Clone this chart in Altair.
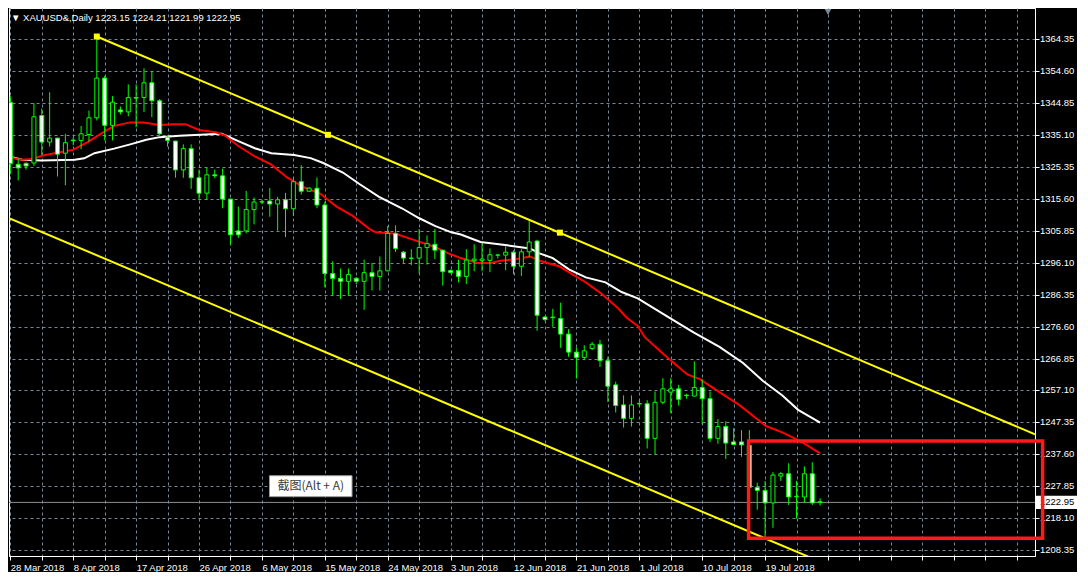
import json
import altair as alt
import pandas as pd

# ---------------- data ----------------
opens = [1345.05, 1326.1, 1326.4, 1326.5, 1341.0, 1332.9, 1334.1, 1329.5, 1333.5, 1333.4,
         1335.2, 1340.3, 1352.4, 1338.0, 1342.7, 1342.1, 1346.5, 1346.5, 1351.0, 1345.5,
         1334.4, 1333.2, 1324.4, 1330.9, 1322.0, 1317.3, 1322.9, 1322.6, 1315.5, 1305.8,
         1305.8, 1312.3, 1314.6, 1314.9, 1314.0, 1315.3, 1312.55, 1320.8, 1317.9, 1318.8,
         1313.7, 1292.8, 1291.3, 1290.4, 1291.3, 1290.4, 1293.05, 1291.9, 1293.6, 1305.05,
         1299.3, 1297.5, 1297.5, 1300.7, 1301.7, 1299.9, 1293.7, 1293.7, 1291.9, 1296.7,
         1296.7, 1296.8, 1298.45, 1298.4, 1299.3, 1295.0, 1299.4, 1302.7, 1279.5, 1279.3,
         1279.05, 1274.3, 1268.8, 1267.2, 1269.9, 1271.2, 1266.2, 1258.8, 1252.7, 1248.6,
         1253.0, 1253.05, 1242.5, 1253.5, 1256.6, 1257.6, 1255.65, 1255.4, 1258.0, 1254.6,
         1242.5, 1246.1, 1241.4, 1241.4, 1240.35, 1227.5, 1226.6, 1222.8, 1231.0, 1231.7,
         1224.7, 1224.6, 1231.7, 1223.15]
highs = [1346.9, 1328.0, 1326.7, 1344.8, 1343.1, 1348.1, 1334.2, 1335.4, 1334.4, 1337.8,
         1342.5, 1365.1, 1353.1, 1346.9, 1343.75, 1350.5, 1350.5, 1355.4, 1354.6, 1346.0,
         1334.9, 1333.3, 1332.2, 1332.2, 1324.5, 1325.05, 1324.5, 1324.8, 1315.6, 1313.2,
         1318.0, 1316.0, 1315.4, 1318.85, 1316.2, 1317.4, 1321.6, 1325.85, 1319.1, 1322.1,
         1314.7, 1296.5, 1294.3, 1294.3, 1291.75, 1297.0, 1296.0, 1298.0, 1307.3, 1307.5,
         1299.7, 1300.2, 1306.35, 1304.4, 1306.35, 1300.0, 1294.0, 1297.0, 1300.2, 1301.7,
         1302.1, 1300.45, 1298.6, 1301.1, 1299.9, 1300.2, 1308.8, 1303.1, 1279.8, 1282.0,
         1283.9, 1275.8, 1270.2, 1270.9, 1271.9, 1272.55, 1267.4, 1259.8, 1255.6, 1255.6,
         1254.1, 1254.15, 1256.8, 1260.85, 1260.85, 1258.8, 1256.1, 1266.0, 1260.55, 1256.8,
         1248.4, 1247.7, 1245.6, 1245.0, 1245.0, 1229.0, 1229.5, 1232.2, 1232.2, 1234.9,
         1229.5, 1233.95, 1235.2, 1224.21]
lows = [1323.1, 1321.2, 1324.5, 1325.6, 1329.0, 1331.5, 1322.4, 1319.7, 1331.9, 1330.7,
        1333.0, 1339.5, 1333.4, 1333.4, 1341.3, 1340.8, 1337.4, 1342.1, 1340.5, 1334.9,
        1331.5, 1322.0, 1322.0, 1318.6, 1315.2, 1315.2, 1321.9, 1312.7, 1301.6, 1303.7,
        1305.05, 1307.8, 1314.0, 1310.1, 1305.85, 1303.9, 1310.3, 1316.9, 1317.7, 1312.7,
        1288.6, 1286.1, 1285.0, 1286.0, 1289.6, 1281.7, 1287.6, 1287.6, 1293.5, 1299.4,
        1296.0, 1295.3, 1292.8, 1295.5, 1297.2, 1289.1, 1292.8, 1290.1, 1289.6, 1293.5,
        1293.5, 1293.2, 1297.4, 1293.8, 1292.55, 1292.05, 1297.8, 1275.3, 1278.3, 1276.5,
        1270.1, 1267.4, 1260.7, 1266.5, 1269.4, 1264.3, 1253.6, 1250.4, 1245.8, 1246.1,
        1252.2, 1239.4, 1237.6, 1252.9, 1250.2, 1252.5, 1254.6, 1255.4, 1246.8, 1241.35,
        1240.85, 1236.2, 1240.5, 1236.9, 1227.4, 1220.7, 1212.3, 1215.2, 1229.5, 1222.15,
        1218.0, 1222.8, 1222.15, 1221.99]
closes = [1326.3, 1325.0, 1325.6, 1340.6, 1332.9, 1334.1, 1329.2, 1332.7, 1333.3, 1335.4,
          1340.3, 1352.4, 1338.0, 1345.05, 1342.1, 1346.5, 1346.3, 1351.0, 1345.5, 1335.4,
          1333.4, 1324.4, 1330.9, 1322.0, 1317.3, 1322.9, 1322.6, 1315.5, 1304.6, 1304.6,
          1312.3, 1314.6, 1314.7, 1314.0, 1315.3, 1312.55, 1320.8, 1317.9, 1318.85, 1313.7,
          1292.8, 1291.3, 1290.4, 1292.5, 1290.4, 1293.05, 1291.9, 1293.6, 1305.05, 1300.4,
          1297.5, 1297.4, 1300.7, 1301.9, 1299.9, 1293.35, 1293.1, 1291.9, 1296.9, 1297.2,
          1297.2, 1298.5, 1298.4, 1299.3, 1295.0, 1299.4, 1302.4, 1280.05, 1278.75, 1279.5,
          1274.3, 1268.8, 1267.2, 1269.2, 1271.2, 1266.2, 1258.4, 1252.5, 1248.6, 1252.7,
          1253.1, 1242.5, 1253.5, 1257.6, 1257.6, 1254.4, 1255.55, 1258.0, 1254.6, 1242.5,
          1246.1, 1241.05, 1240.6, 1240.5, 1227.55, 1226.6, 1222.8, 1231.3, 1231.7, 1224.6,
          1224.8, 1231.7, 1222.8, 1222.95]
bars = list(range(len(opens)))

# red moving average (bar index, price)
red_k = [-0.17, 1.5, 2.75, 4.0, 6.08, 7.96, 9.83, 11.5, 13.2, 15.25, 16.9, 19.0, 20.7, 22.3,
         24.0, 26.1, 27.3, 29.0, 31.1, 33.2, 35.2, 37.3, 39.4, 41.5, 43.6, 45.7, 46.5, 49.0,
         51.5, 54.0, 55.7, 57.3, 59.4, 61.1, 62.3, 64.4, 66.1, 67.3, 69.8, 71.5, 73.2, 75.2,
         77.3, 78.4, 79.8, 80.7, 83.2, 86.1, 87.7, 90.2, 92.7, 96.1, 98.2, 100.7, 103.0]
red_p = [1328.2, 1327.5, 1327.7, 1328.7, 1329.7, 1330.5, 1332.9, 1335.4, 1337.85, 1338.9,
         1338.85, 1338.1, 1338.35, 1338.35, 1336.6, 1335.9, 1334.9, 1331.7, 1328.5, 1326.0,
         1322.1, 1319.1, 1317.2, 1313.2, 1310.3, 1306.35, 1305.35, 1304.9, 1302.9, 1300.9,
         1298.95, 1297.5, 1296.0, 1296.0, 1296.7, 1297.2, 1298.0, 1296.7, 1295.0, 1292.55,
         1290.1, 1286.6, 1282.2, 1279.3, 1276.8, 1273.35, 1267.9, 1262.0, 1260.55, 1256.6,
         1252.7, 1246.25, 1244.3, 1241.35, 1237.9]

# white moving average (bar index, price)
white_k = [-0.17, 1.5, 4.0, 8.2, 9.4, 10.7, 13.2, 15.25, 17.3, 19.0, 21.5, 24.8, 26.9, 29.0,
           31.1, 33.2, 36.1, 38.2, 39.8, 42.3, 44.4, 46.9, 49.8, 51.9, 54.0, 56.1, 57.3, 59.8,
           63.2, 66.1, 67.3, 69.0, 71.1, 73.2, 75.7, 77.75, 79.8, 83.8, 86.9, 90.2, 93.2, 95.7,
           98.2, 100.2, 103.0]
white_p = [1328.5, 1327.5, 1327.3, 1327.5, 1327.95, 1329.5, 1330.9, 1332.2, 1333.6, 1334.4,
           1334.8, 1335.2, 1335.4, 1333.2, 1331.0, 1329.5, 1328.95, 1328.0, 1326.5, 1323.6,
           1320.1, 1316.2, 1312.7, 1309.8, 1307.3, 1305.35, 1304.7, 1302.4, 1301.4, 1300.45,
           1298.95, 1297.5, 1294.0, 1291.6, 1290.1, 1287.15, 1285.2, 1279.3, 1274.8, 1270.4,
           1265.5, 1260.05, 1255.6, 1251.2, 1247.3]

# yellow channel
upper_k = [11, 130.33]
upper_p = [1365.1, 1243.74]
lower_k = [-0.17, 130.33]
lower_p = [1309.7, 1177.1]
anchor_k = [11, 40.4, 69.9]
anchor_p = [1365.1, 1335.1, 1305.26]

# red box
box_k = [93.9, 131.3]
box_p = [1211.98, 1241.65]

# screenshot hint box
hint_k = [32.96, 43.46]
hint_p = [1224.7, 1231.1]
hint_text = "截图(Alt + A)"

last_price = 1222.95
price_tag_p = [1220.95, 1224.95]

y_ticks = [1364.35, 1354.60, 1344.85, 1335.10, 1325.35, 1315.60, 1305.85, 1296.10, 1286.35,
           1276.60, 1266.85, 1257.10, 1247.35, 1237.60, 1227.85, 1218.10, 1208.35]
date_labels = ["28 Mar 2018", "8 Apr 2018", "17 Apr 2018", "26 Apr 2018", "6 May 2018",
               "15 May 2018", "24 May 2018", "3 Jun 2018", "12 Jun 2018", "21 Jun 2018",
               "1 Jul 2018", "10 Jul 2018", "19 Jul 2018"]
grid_bars = list(range(0, 132, 4))
title_text = "▼ XAUUSD&,Daily  1223.15 1224.21 1221.99 1222.95"
shift_k = [104]

# ---------------- chart ----------------
W, H = 1026, 548
FONT = "Liberation Sans"
GRID = "#778899"
GREEN = "#00FF00"

xs = alt.Scale(domain=[-0.17, 130.33], nice=False, zero=False, padding=0)
ys = alt.Scale(domain=[1206.6, 1373.8], nice=False, zero=False, padding=0)

label_expr = ("(datum.value % 8 == 0 && datum.value <= 96) ? "
              + json.dumps(date_labels) + "[datum.value / 8] : ''")
xaxis = alt.Axis(values=grid_bars, labelExpr=label_expr, labelAlign="left",
                 labelBaseline="top", labelPadding=2, labelFlush=False, labelOverlap=False,
                 grid=True, gridColor=GRID, gridDash=[3, 3], gridWidth=1,
                 tickColor="#FFFFFF", tickSize=4, domainColor="#FFFFFF",
                 labelColor="#FFFFFF", labelFont=FONT, labelFontSize=9.5, title=None)
# y labels are drawn as text marks (below the red box), the axis keeps their room
yaxis = alt.Axis(orient="right", values=y_ticks, format=".2f", labelOverlap=False,
                 labelFlush=False, labelPadding=1, labelBaseline="middle", labelOpacity=0,
                 grid=True, gridColor=GRID, gridDash=[3, 3], gridWidth=1,
                 tickColor="#FFFFFF", tickSize=4, domainColor="#FFFFFF",
                 labelColor="#FFFFFF", labelFont=FONT, labelFontSize=9.5, title=None)


def X(field, **kw):
    return alt.X(field, type="quantitative", scale=xs, axis=xaxis, **kw)


def Y(field, **kw):
    return alt.Y(field, type="quantitative", scale=ys, axis=yaxis, **kw)


candles = pd.DataFrame({"k": bars, "open": opens, "high": highs, "low": lows, "close": closes})
red_df = pd.DataFrame({"k": red_k, "p": red_p})
white_df = pd.DataFrame({"k": white_k, "p": white_p})
chan_df = pd.DataFrame({"k": upper_k + lower_k, "p": upper_p + lower_p,
                        "line": ["upper"] * len(upper_k) + ["lower"] * len(lower_k)})
anchor_df = pd.DataFrame({"k": anchor_k, "p": anchor_p})
box_df = pd.DataFrame({"k1": [box_k[0]], "k2": [box_k[1]], "p1": [box_p[0]], "p2": [box_p[1]]})
hint_df = pd.DataFrame({"k1": [hint_k[0]], "k2": [hint_k[1]], "p1": [hint_p[0]], "p2": [hint_p[1]],
                        "km": [(hint_k[0] + hint_k[1]) / 2], "pm": [(hint_p[0] + hint_p[1]) / 2],
                        "t": [hint_text]})
tag_df = pd.DataFrame({"p1": [price_tag_p[0]], "p2": [price_tag_p[1]],
                       "p": [last_price], "t": [f"{last_price:.2f}"]})
ylab_df = pd.DataFrame({"p": y_ticks, "t": [f"{v:.2f}" for v in y_ticks]})
title_df = pd.DataFrame({"t": [title_text]})
shift_df = pd.DataFrame({"k": shift_k})

base = alt.Chart(candles)

wicks = base.mark_rule(color=GREEN, strokeWidth=1, clip=True).encode(
    x=X("k"), y=Y("low"), y2="high")

bodies = base.mark_bar(size=4, stroke=GREEN, strokeWidth=1, clip=True).encode(
    x=X("k"), y=Y("open"), y2="close",
    fill=alt.condition("datum.close >= datum.open", alt.value("#000000"), alt.value("#FFFFFF")))

price_line = alt.Chart(tag_df).mark_rule(color="#8C8C8C", strokeWidth=1).encode(y=Y("p"))

red_line = alt.Chart(red_df).mark_line(color="#FF0000", strokeWidth=2, clip=True).encode(
    x=X("k"), y=Y("p"))
white_line = alt.Chart(white_df).mark_line(color="#FFFFFF", strokeWidth=2, clip=True).encode(
    x=X("k"), y=Y("p"))

channel = alt.Chart(chan_df).mark_line(color="#FFFF00", strokeWidth=2, clip=True).encode(
    x=X("k"), y=Y("p"), detail="line:N")
anchors = alt.Chart(anchor_df).mark_square(color="#FFFF00", size=36, opacity=1).encode(
    x=X("k"), y=Y("p"))

hint_box = alt.Chart(hint_df).mark_rect(fill="#FFFFFF", stroke="#9A9A9A", strokeWidth=1).encode(
    x=X("k1"), x2="k2", y=Y("p1"), y2="p2")
hint_txt = alt.Chart(hint_df).mark_text(font="Noto Sans CJK SC", fontSize=12, color="#3C3C3C",
                                        align="center", baseline="middle").encode(
    x=X("km"), y=Y("pm"), text="t:N")

ylabels = alt.Chart(ylab_df).mark_text(font=FONT, fontSize=9.5, color="#FFFFFF", align="left",
                                       baseline="middle", dx=5, clip=False).encode(
    x=alt.value(W), y=Y("p"), text="t:N")

tag_box = alt.Chart(tag_df).mark_rect(fill="#FFFFFF", clip=False).encode(
    x=alt.value(W), x2=alt.value(W + 42), y=Y("p1"), y2="p2")
tag_txt = alt.Chart(tag_df).mark_text(font=FONT, fontSize=9.5, color="#000000", align="left",
                                      baseline="middle", dx=5, clip=False).encode(
    x=alt.value(W), y=Y("p"), text="t:N")

red_box = alt.Chart(box_df).mark_rect(filled=False, stroke="#FF1A1A", strokeWidth=3.5,
                                      clip=False).encode(
    x=X("k1"), x2="k2", y=Y("p1"), y2="p2")

title = alt.Chart(title_df).mark_text(font=FONT, fontSize=9.5, color="#FFFFFF", align="left",
                                      baseline="middle").encode(
    x=alt.value(2), y=alt.value(10), text="t:N")

shift_mark = alt.Chart(shift_df).mark_point(shape="triangle-down", filled=True, color=GRID,
                                            size=45, opacity=1).encode(
    x=X("k"), y=alt.value(4))

chart = alt.layer(
    price_line, channel, white_line, red_line, wicks, bodies, anchors,
    hint_box, hint_txt, ylabels, tag_box, tag_txt, red_box, title, shift_mark
).properties(
    width=W, height=H, padding=0, background="#000000"
).configure_view(
    stroke="#FFFFFF", strokeWidth=1
)

chart.save("out.html", embed_options={"renderer": "svg", "actions": False})
